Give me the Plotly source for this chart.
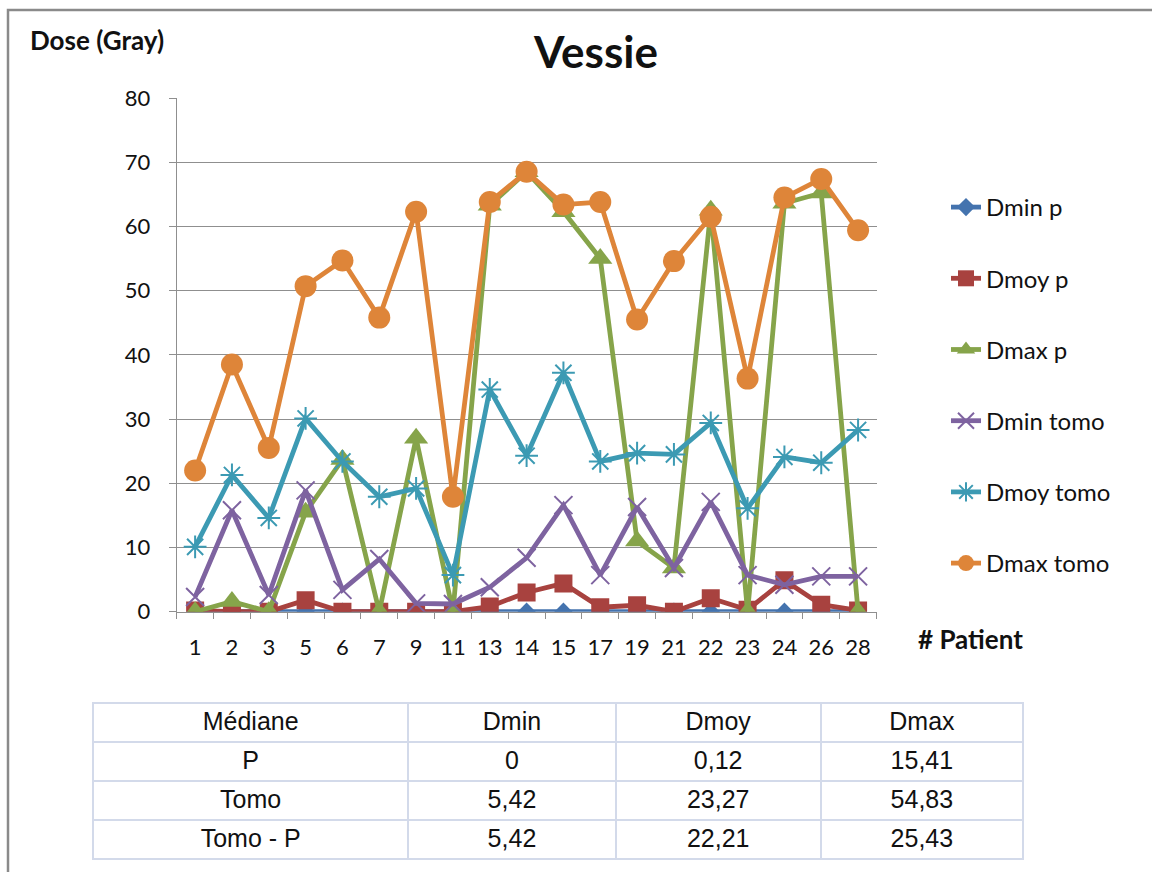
import plotly.graph_objects as go

# Patient numbers along the x axis
patients = ["1", "2", "3", "5", "6", "7", "9", "11", "13", "14", "15",
            "17", "19", "21", "22", "23", "24", "26", "28"]

# Doses (Gray) per patient
dmin_p = [0, 0, 0, 0, 0, 0, 0, 0, 0, 0, 0, 0, 0, 0, 0, 0, 0, 0, 0]
dmoy_p = [0.2, 0, 0, 1.8, 0, 0, 0, 0, 0.8, 3.0, 4.4, 0.7, 1.0, 0, 2.1, 0.3, 4.9, 1.1, 0.2]
dmax_p = [0, 1.6, 0, 15.5, 23.7, 0, 27.0, 0, 63.3, 68.5, 62.3, 55.0, 11.0, 6.8, 62.5, 0, 63.6, 65.2, 0]
dmin_tomo = [2.3, 15.8, 2.6, 18.9, 3.4, 8.2, 1.3, 1.2, 3.8, 8.4, 16.6, 5.7, 16.3, 6.8, 17.1, 5.7, 4.2, 5.5, 5.5]
dmoy_tomo = [10.1, 21.3, 14.6, 30.1, 23.4, 17.9, 19.2, 5.7, 34.6, 24.3, 37.2, 23.4, 24.7, 24.5, 29.4, 16.1, 24.1, 23.2, 28.3]
dmax_tomo = [22.0, 38.5, 25.5, 50.7, 54.7, 45.8, 62.3, 17.9, 63.8, 68.5, 63.4, 63.8, 45.5, 54.6, 61.5, 36.3, 64.5, 67.4, 59.4]

# Median summary table
table_header = ["Médiane", "Dmin", "Dmoy", "Dmax"]
table_rows = ["P", "Tomo", "Tomo - P"]
table_dmin = ["0", "5,42", "5,42"]
table_dmoy = ["0,12", "23,27", "22,21"]
table_dmax = ["15,41", "54,83", "25,43"]

W, H = 1152, 872
FONT = "Lato, 'Open Sans', sans-serif"
TABLE_FONT = "'Liberation Sans Narrow', 'Arial Narrow', 'Liberation Sans', sans-serif"


def px_x(p):
    return p / W


def px_y(p):
    return 1 - p / H


series = [
    ("Dmin p", dmin_p, "#4473AE", dict(symbol="diamond", size=14)),
    ("Dmoy p", dmoy_p, "#A8423F", dict(symbol="square", size=18)),
    ("Dmax p", dmax_p, "#86A44A", dict(symbol="triangle-up", size=21)),
    ("Dmin tomo", dmin_tomo, "#7E63A0",
     dict(symbol="x-thin-open", size=18, line=dict(width=2, color="#7E63A0"))),
    ("Dmoy tomo", dmoy_tomo, "#3C9AB3",
     dict(symbol="asterisk-open", size=19, line=dict(width=2, color="#3C9AB3"))),
    ("Dmax tomo", dmax_tomo, "#DE8539", dict(symbol="circle", size=22)),
]

fig = go.Figure()
for name, vals, color, mk in series:
    fig.add_trace(go.Scatter(
        x=patients, y=vals, name=name, mode="lines+markers",
        legendgroup=name,
        line=dict(color=color, width=4.8),
        marker=dict(color=color, **mk),
    ))

cell_line = dict(color="#D3DAEA", width=2)
fig.add_trace(go.Table(
    domain=dict(x=[px_x(93), px_x(1023)], y=[0, px_y(703)]),
    columnwidth=[315, 207, 205, 202],
    header=dict(
        values=table_header, height=39, align="center",
        fill_color="white", line=cell_line,
        font=dict(family=TABLE_FONT, size=25, color="#111111"),
    ),
    cells=dict(
        values=[table_rows, table_dmin, table_dmoy, table_dmax],
        height=39, align="center",
        fill_color="white", line=cell_line,
        font=dict(family=TABLE_FONT, size=25, color="#111111"),
    ),
))

axis_gray = "#8F8F8F"
fig.update_layout(
    width=W, height=H,
    margin=dict(l=0, r=0, t=0, b=0, autoexpand=False),
    paper_bgcolor="white", plot_bgcolor="white",
    font=dict(family=FONT, color="#111111"),
    showlegend=True,
    legend=dict(
        x=px_x(946), y=px_y(185), xanchor="left", yanchor="top",
        font=dict(family=FONT, size=24, color="#111111"),
        tracegroupgap=37, bgcolor="rgba(0,0,0,0)",
        itemsizing="trace",
    ),
    xaxis=dict(
        domain=[px_x(176.7), px_x(876.5)],
        type="category", range=[-0.5, len(patients) - 0.5],
        showgrid=False, automargin=False,
        showline=True, linecolor=axis_gray, linewidth=1,
        ticks="outside", tickson="boundaries", ticklen=6, tickcolor=axis_gray,
        tickfont=dict(family=FONT, size=22, color="#111111"),
        tickangle=0,
        ticklabelstandoff=16,
        fixedrange=True,
    ),
    yaxis=dict(
        domain=[px_y(611.7), px_y(98)],
        range=[0, 80], dtick=10, tick0=0, automargin=False,
        showgrid=True, gridcolor=axis_gray, gridwidth=1,
        showline=True, linecolor=axis_gray, linewidth=1,
        zeroline=False,
        ticks="outside", ticklen=7, tickcolor=axis_gray,
        tickfont=dict(family=FONT, size=22, color="#111111"),
        ticklabelstandoff=14,
        fixedrange=True,
    ),
    annotations=[
        dict(text="<b>Vessie</b>", x=px_x(595), y=px_y(51), xref="paper", yref="paper",
             showarrow=False, xanchor="center", yanchor="middle",
             font=dict(family=FONT, size=44, color="#111111")),
        dict(text="<b>Dose (Gray)</b>", x=px_x(28), y=px_y(40), xref="paper", yref="paper",
             showarrow=False, xanchor="left", yanchor="middle",
             font=dict(family=FONT, size=26, color="#111111")),
        dict(text="<b># Patient</b>", x=px_x(916), y=px_y(639), xref="paper", yref="paper",
             showarrow=False, xanchor="left", yanchor="middle",
             font=dict(family=FONT, size=26, color="#111111")),
    ],
    shapes=[
        dict(type="rect", xref="paper", yref="paper",
             x0=px_x(8), x1=px_x(1170), y0=px_y(900), y1=px_y(10),
             line=dict(color="#8A8A8A", width=2.5), fillcolor="rgba(0,0,0,0)", layer="below"),
    ],
)

fig.write_html("out.html")
